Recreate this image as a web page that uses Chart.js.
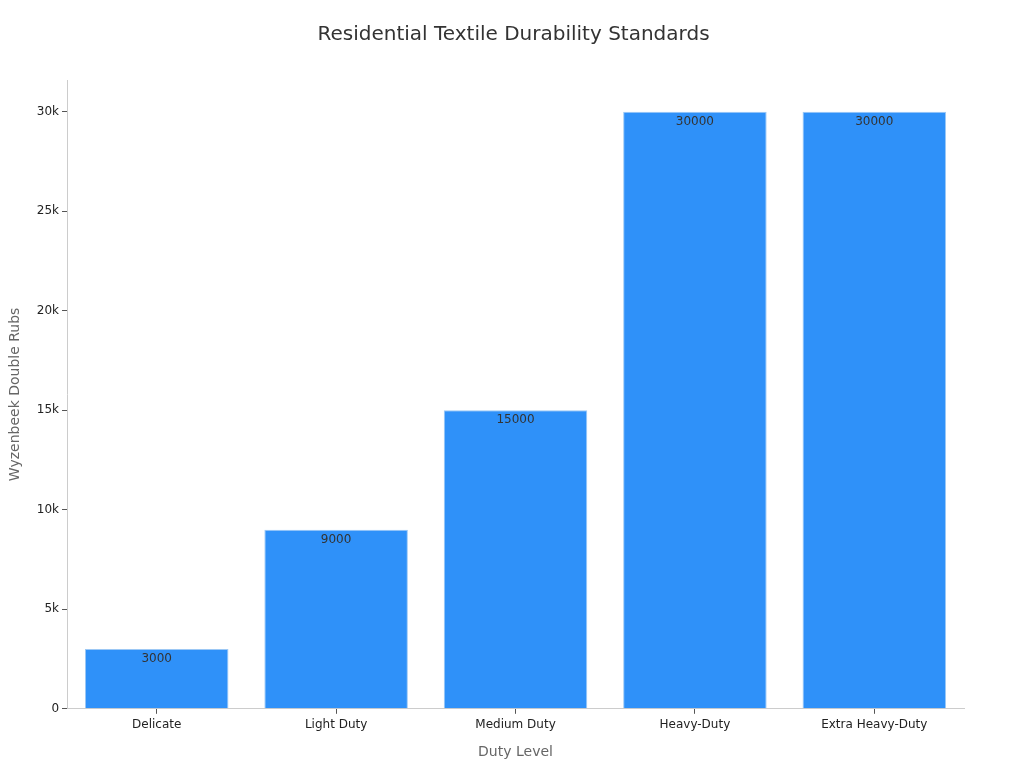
<!DOCTYPE html>
<html>
<head>
<meta charset="utf-8">
<script src="https://cdn.jsdelivr.net/npm/chart.js@4"></script>
<style>
  html, body { margin: 0; padding: 0; background: #fff; }
  #wrap { width: 1024px; height: 768px; }
</style>
</head>
<body>
<div id="wrap"><canvas class="js-chart"></canvas></div>
<script>
const ctx = document.querySelector('.js-chart').getContext('2d');

const dutyLevels = ['Delicate', 'Light Duty', 'Medium Duty', 'Heavy-Duty', 'Extra Heavy-Duty'];
const doubleRubs = [3000, 9000, 15000, 30000, 30000];
const yTickValues = [0, 5000, 10000, 15000, 20000, 25000, 30000];
const yTickLabels = ['0', '5k', '10k', '15k', '20k', '25k', '30k'];

Chart.defaults.font.family = '"DejaVu Sans", sans-serif';

// draws the value just inside the top of each bar
const barValues = {
    id: 'barValues',
    afterDatasetsDraw(chart) {
        const c = chart.ctx;
        const meta = chart.getDatasetMeta(0);
        c.save();
        c.fillStyle = '#333';
        c.font = '12px "DejaVu Sans", sans-serif';
        c.textAlign = 'center';
        c.textBaseline = 'middle';
        meta.data.forEach((bar, i) => {
            c.fillText(String(doubleRubs[i]), bar.x, bar.y + 10);
        });
        c.restore();
    }
};

new Chart(ctx, {
    type: 'bar',
    data: {
        labels: dutyLevels,
        datasets: [
            {
                label: 'Wyzenbeek Double Rubs',
                data: doubleRubs,
                backgroundColor: '#2f91f9',
                borderColor: '#9cc8f5',
                borderWidth: 1,
                categoryPercentage: 0.8,
                barPercentage: 1,
            },
        ]
    },
    options: {
        responsive: true,
        maintainAspectRatio: false,
        animation: false,
        layout: { padding: { left: 3, right: 0, top: 13, bottom: 3 } },
        plugins: {
            legend: { display: false },
            tooltip: { enabled: false },
            title: {
                display: true,
                text: 'Residential Textile Durability Standards',
                color: '#333',
                font: { size: 20, weight: 'normal' },
                padding: { top: 10, bottom: 33 }
            }
        },
        scales: {
            x: {
                grid: { display: true, drawOnChartArea: false, offset: false, color: '#ccc', tickLength: 5, tickColor: '#555' },
                border: { color: '#ccc' },
                ticks: { color: '#222', font: { size: 12 }, padding: 4 },
                title: { display: true, text: 'Duty Level', color: '#666', font: { size: 14 }, padding: { top: 8 } }
            },
            y: {
                min: 0,
                max: 31600,
                afterBuildTicks(scale) {
                    scale.ticks = yTickValues.map(value => ({ value }));
                },
                grid: { display: true, drawOnChartArea: false, tickLength: 5, tickColor: '#555' },
                border: { color: '#ccc' },
                ticks: {
                    color: '#222',
                    font: { size: 12 },
                    padding: 3,
                    callback(value) {
                        const i = yTickValues.indexOf(value);
                        return i >= 0 ? yTickLabels[i] : '';
                    }
                },
                title: { display: true, text: 'Wyzenbeek Double Rubs', color: '#666', font: { size: 14 }, padding: { bottom: 10 } }
            },
            // empty right-hand strip so the plot ends where the reference does
            spacer: {
                type: 'linear',
                position: 'right',
                grid: { display: false },
                border: { display: false },
                ticks: { display: false },
                afterFit(scale) {
                    scale.width = 60;
                }
            }
        }
    },
    plugins: [barValues]
});
</script>
</body>
</html>
